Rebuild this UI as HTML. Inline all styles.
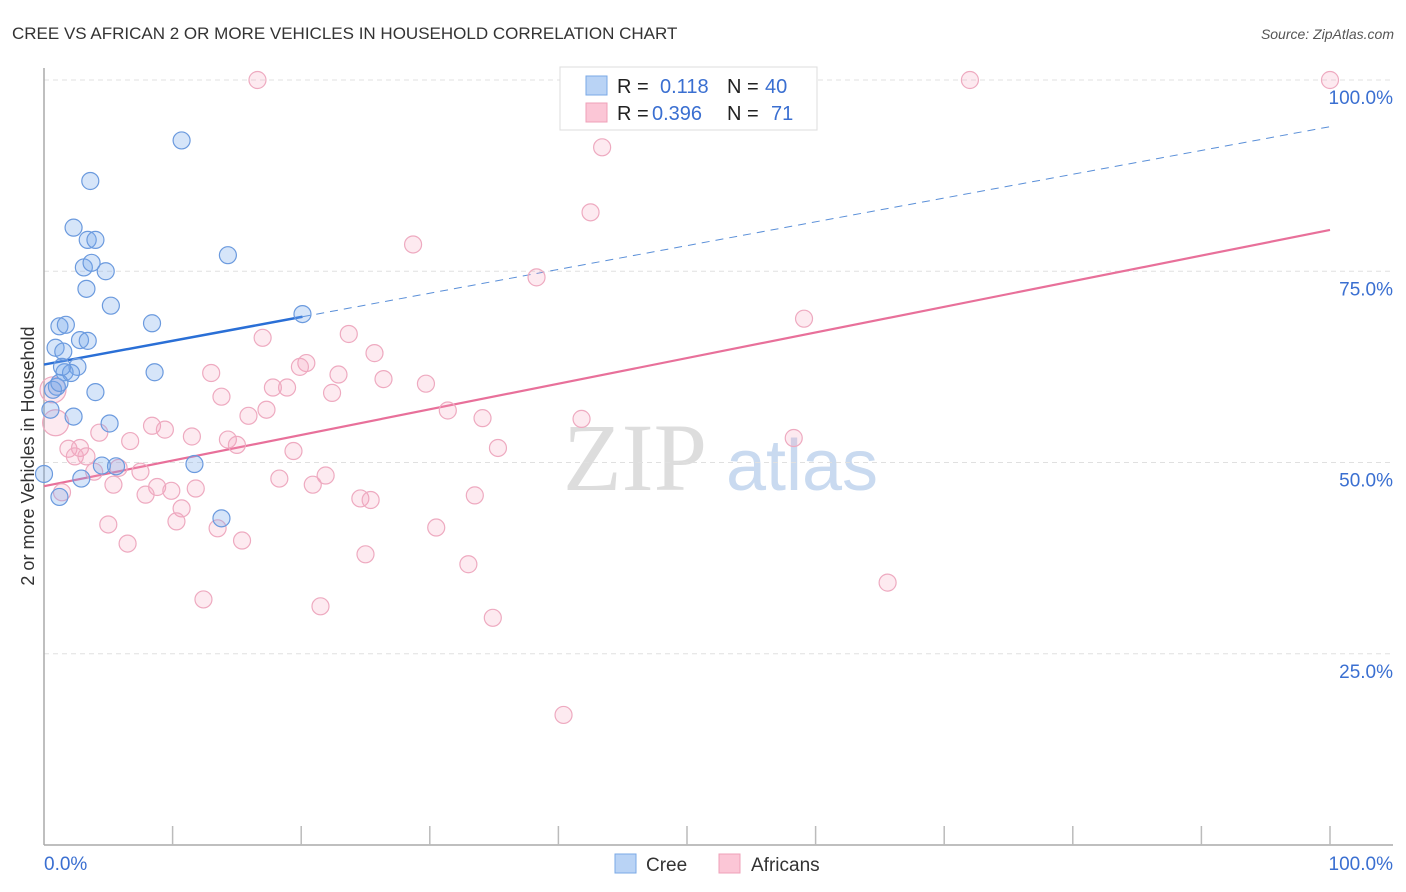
<!DOCTYPE html>
<html><head><meta charset="utf-8"><style>
body{margin:0;background:#fff;font-family:"Liberation Sans",sans-serif;}
svg{display:block}
</style></head><body>
<svg id="chart" width="1406" height="892" font-family="Liberation Sans, sans-serif">
<text x="12" y="39" font-size="17" fill="#333">CREE VS AFRICAN 2 OR MORE VEHICLES IN HOUSEHOLD CORRELATION CHART</text>
<text x="1394" y="39" font-size="14" fill="#555" font-style="italic" text-anchor="end">Source: ZipAtlas.com</text>
<text transform="translate(34,456) rotate(-90)" font-size="18" fill="#333" text-anchor="middle">2 or more Vehicles in Household</text>
<g><text x="635" y="490" font-size="96" fill="#ddd" font-family="Liberation Serif, serif" text-anchor="middle">ZIP</text><text x="802" y="490" font-size="72" fill="#c9daf0" text-anchor="middle">atlas</text></g>
<g id="grid"></g><g id="axes"></g><g id="trend"></g><g id="pts"></g>
<g>
<rect x="560" y="67" width="257" height="63" fill="#fff" stroke="#ddd"/>
<rect x="586" y="76" width="21" height="19" fill="#b9d3f5" stroke="#7aa8e6"/>
<rect x="586" y="103" width="21" height="19" fill="#fbc6d6" stroke="#efa0b8"/>
<text x="617" y="93" font-size="20" fill="#222">R = </text><text x="660" y="93" font-size="20" fill="#3a6fd1">0.118</text>
<text x="727" y="93" font-size="20" fill="#222">N = </text><text x="765" y="93" font-size="20" fill="#3a6fd1">40</text>
<text x="617" y="120" font-size="20" fill="#222">R = </text><text x="652" y="120" font-size="20" fill="#3a6fd1">0.396</text>
<text x="727" y="120" font-size="20" fill="#222">N = </text><text x="771" y="120" font-size="20" fill="#3a6fd1">71</text>
</g>
<g>
<rect x="615" y="854" width="21" height="19" fill="#b9d3f5" stroke="#7aa8e6"/>
<text x="646" y="871" font-size="19" fill="#333">Cree</text>
<rect x="719" y="854" width="21" height="19" fill="#fbc6d6" stroke="#efa0b8"/>
<text x="751" y="871" font-size="19" fill="#333">Africans</text>
</g>
</svg>
<script>
const creeX=[10.7,3.6,2.3,3.4,4.0,3.1,3.7,4.8,3.3,5.2,1.2,1.7,8.4,14.3,20.1,0.9,1.5,2.8,3.4,2.6,1.6,2.1,1.0,0.7,4.0,1.2,0.5,2.3,5.1,0.0,4.5,5.6,11.7,2.9,1.2,13.8,8.6,1.4];
const creeY=[92.1,86.8,80.7,79.1,79.1,75.5,76.1,75.0,72.7,70.5,67.8,68.0,68.2,77.1,69.4,65.0,64.5,66.0,65.9,62.5,61.8,61.7,59.9,59.5,59.2,60.4,56.9,56.0,55.1,48.5,49.6,49.5,49.8,47.9,45.5,42.7,61.8,62.5];
const afrX=[16.6,72.0,100,43.4,42.5,28.7,38.3,59.1,17.0,23.7,20.4,25.7,13.0,19.9,22.9,26.4,29.7,18.9,17.8,13.8,22.4,17.3,15.9,31.4,34.1,41.8,4.3,8.4,9.4,11.5,6.7,14.3,15.0,19.4,1.9,2.8,35.3,58.3,2.4,3.3,5.8,7.5,3.9,18.3,21.9,20.9,8.8,5.4,9.9,11.8,7.9,24.6,25.4,33.5,0.9,1.4,10.7,5.0,10.3,13.5,30.5,6.5,15.4,25.0,33.0,65.6,12.4,21.5,34.9,40.4,0.7];
const afrY=[100,100,100,91.2,82.7,78.5,74.2,68.8,66.3,66.8,63.0,64.3,61.7,62.5,61.5,60.9,60.3,59.8,59.8,58.6,59.1,56.9,56.1,56.8,55.8,55.7,53.9,54.8,54.3,53.4,52.8,53.0,52.3,51.5,51.8,51.9,51.9,53.2,50.8,50.8,49.3,48.8,48.8,47.9,48.3,47.1,46.8,47.1,46.3,46.6,45.8,45.3,45.1,45.7,55.2,46.1,44.0,41.9,42.3,41.4,41.5,39.4,39.8,38.0,36.7,34.3,32.1,31.2,29.7,17.0,59.5];
const creeTrend=[62.8,93.9], creeTrendEnd=20.1;
const afrTrend=[46.9,80.4];
const yTicks=[100,75,50,25];
const yTickLabels=["100.0%","75.0%","50.0%","25.0%"];
const xTicks=[0,10,20,30,40,50,60,70,80,90,100];
const NS="http://www.w3.org/2000/svg";
const sx=v=>44+v*12.86, sy=v=>845-v*7.65;
function mk(tag,attrs,parent){const e=document.createElementNS(NS,tag);for(const k in attrs)e.setAttribute(k,attrs[k]);document.getElementById(parent).appendChild(e);return e;}
yTicks.forEach((t,i)=>{
 const g=mk('line',{x1:44,x2:1393,y1:sy(t),y2:sy(t),stroke:'#e0e0e0','stroke-dasharray':'5,4'},'grid');
 
 
 const l=mk('text',{x:1393,y:sy(t)+24,'font-size':19,fill:'#3a6fd1','text-anchor':'end'},'grid');l.textContent=yTickLabels[i];
 
 
});
const ax=mk('line',{x1:44,x2:44,y1:68,y2:845,stroke:'#aaa','stroke-width':1.5},'axes');


const bx=mk('line',{x1:44,x2:1393,y1:845,y2:845,stroke:'#aaa','stroke-width':1.5},'axes');


xTicks.forEach(t=>{if(t===0)return;const k=mk('line',{x1:sx(t),x2:sx(t),y1:826,y2:845,stroke:'#bbb','stroke-width':1.5},'axes');
 
 });
const xl0=mk('text',{x:44,y:870,'font-size':19,fill:'#3a6fd1'},'axes');xl0.textContent='0.0%';


const xl1=mk('text',{x:1393,y:870,'font-size':19,fill:'#3a6fd1','text-anchor':'end'},'axes');xl1.textContent='100.0%';


afrX.forEach((x,i)=>{const big=(i>=afrX.length-1||i===54);const c=mk('circle',{cx:sx(x),cy:sy(afrY[i]),r:big?13:8.5,fill:'rgba(244,160,186,0.22)',stroke:'#eeaac0','stroke-width':1.2},'pts');
 
 });
creeX.forEach((x,i)=>{const c=mk('circle',{cx:sx(x),cy:sy(creeY[i]),r:8.5,fill:'rgba(120,170,235,0.3)',stroke:'#6b9ade','stroke-width':1.2},'pts');
 
 });
const cy=x=>creeTrend[0]+(creeTrend[1]-creeTrend[0])*x/100;
const t1=mk('line',{x1:sx(0),y1:sy(cy(0)),x2:sx(creeTrendEnd),y2:sy(cy(creeTrendEnd)),stroke:'#2a6fd6','stroke-width':2.5},'trend');


const t2=mk('line',{x1:sx(creeTrendEnd),y1:sy(cy(creeTrendEnd)),x2:sx(100),y2:sy(cy(100)),stroke:'#5a8fd8','stroke-width':1,'stroke-dasharray':'8,6'},'trend');


const t3=mk('line',{x1:sx(0),y1:sy(afrTrend[0]),x2:sx(100),y2:sy(afrTrend[1]),stroke:'#e8709a','stroke-width':2.2},'trend');


</script>
</body></html>
